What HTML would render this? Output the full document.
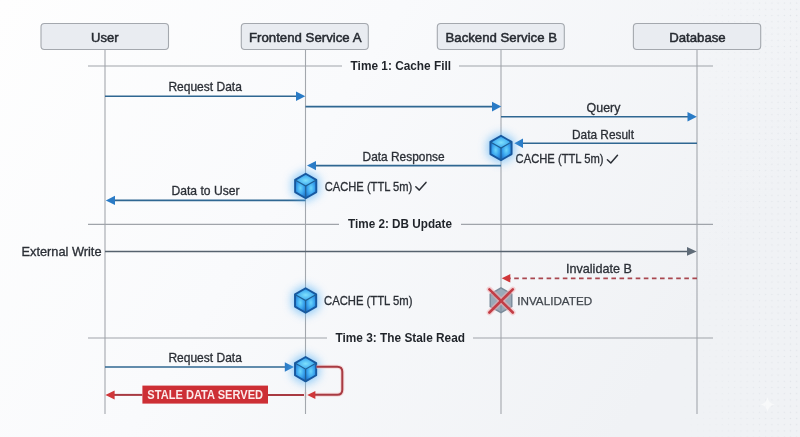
<!DOCTYPE html>
<html><head><meta charset="utf-8">
<style>
html,body{margin:0;padding:0;background:#f6f8fa;}
svg{display:block;will-change:transform;}
text{font-family:"Liberation Sans",sans-serif;}
</style></head>
<body>
<svg width="800" height="437" viewBox="0 0 800 437">
<defs>
  <linearGradient id="bg" x1="0" y1="0" x2="1" y2="0.35">
    <stop offset="0" stop-color="#fefefe"/>
    <stop offset="0.45" stop-color="#f9fafc"/>
    <stop offset="1" stop-color="#f0f2f5"/>
  </linearGradient>
  <filter id="blur3" x="-1" y="-1" width="3" height="3"><feGaussianBlur stdDeviation="5"/></filter>
  <radialGradient id="ftop" cx="0.5" cy="0.55" r="0.6">
    <stop offset="0" stop-color="#7ee0fc"/><stop offset="0.6" stop-color="#45b0f2"/><stop offset="1" stop-color="#1f7ed4"/>
  </radialGradient>
  <radialGradient id="fside" cx="0.5" cy="0.45" r="0.65">
    <stop offset="0" stop-color="#6ad6fb"/><stop offset="0.5" stop-color="#3aa4ee"/><stop offset="1" stop-color="#1a6cc4"/>
  </radialGradient>
  <pattern id="dots" x="0" y="0" width="6.2" height="6.2" patternUnits="userSpaceOnUse">
    <rect x="2.5" y="2.5" width="1.2" height="1.2" fill="#c9ced6"/>
  </pattern>
  <linearGradient id="dotfade" x1="0" y1="0" x2="1" y2="0">
    <stop offset="0" stop-color="#fff" stop-opacity="0"/>
    <stop offset="1" stop-color="#fff" stop-opacity="1"/>
  </linearGradient>
  <mask id="dotmask"><rect x="680" y="0" width="120" height="437" fill="url(#dotfade)"/></mask>
</defs>

<rect x="0" y="0" width="800" height="437" fill="url(#bg)"/>
<rect x="680" y="0" width="120" height="437" fill="url(#dots)" mask="url(#dotmask)" opacity="0.45"/>
<!-- lifelines -->
<g stroke="#a3a7ad" stroke-width="1.1">
  <line x1="105" y1="49" x2="105" y2="414"/>
  <line x1="305.5" y1="49" x2="305.5" y2="414"/>
  <line x1="501" y1="49" x2="501" y2="414"/>
  <line x1="697" y1="49" x2="697" y2="414"/>
</g>

<!-- participant boxes -->
<g fill="#e9ecf1" stroke="#a4a8ae" stroke-width="1.1">
  <rect x="41" y="23.5" width="127.5" height="26" rx="3.5"/>
  <rect x="241.3" y="23.5" width="127" height="26" rx="3.5"/>
  <rect x="437.3" y="23.5" width="127" height="26" rx="3.5"/>
  <rect x="633.4" y="23.5" width="127.3" height="26" rx="3.5"/>
</g>
<g fill="#262a31" font-size="13.6" stroke="#262a31" stroke-width="0.5">
  <text x="91" y="41.8" textLength="27.5" lengthAdjust="spacingAndGlyphs">User</text>
  <text x="249" y="41.6" textLength="112.5" lengthAdjust="spacingAndGlyphs">Frontend Service A</text>
  <text x="445.5" y="41.6" textLength="111.5" lengthAdjust="spacingAndGlyphs">Backend Service B</text>
  <text x="669.2" y="41.6" textLength="56.5" lengthAdjust="spacingAndGlyphs">Database</text>
</g>

<!-- dividers -->
<g stroke="#a0a4aa" stroke-width="1.2">
  <line x1="88" y1="66" x2="342" y2="66"/><line x1="459" y1="66" x2="713" y2="66"/>
  <line x1="88" y1="224.3" x2="339" y2="224.3"/><line x1="461" y1="224.3" x2="713" y2="224.3"/>
  <line x1="88" y1="338" x2="327" y2="338"/><line x1="473" y1="338" x2="713" y2="338"/>
</g>
<g fill="#1f2329" font-size="13" font-weight="bold">
  <text x="350.6" y="70.4" textLength="100.5" lengthAdjust="spacingAndGlyphs">Time 1: Cache Fill</text>
  <text x="348" y="228.4" textLength="104" lengthAdjust="spacingAndGlyphs">Time 2: DB Update</text>
  <text x="335.5" y="342" textLength="129.5" lengthAdjust="spacingAndGlyphs">Time 3: The Stale Read</text>
</g>

<!-- message labels -->
<g fill="#2b2f36" font-size="12.2" stroke="#2b2f36" stroke-width="0.3">
  <text x="168.4" y="91.3" textLength="73.5" lengthAdjust="spacingAndGlyphs">Request Data</text>
  <text x="586.6" y="112" textLength="33.8" lengthAdjust="spacingAndGlyphs">Query</text>
  <text x="572" y="138.5" textLength="62" lengthAdjust="spacingAndGlyphs">Data Result</text>
  <text x="362.6" y="160.6" textLength="82" lengthAdjust="spacingAndGlyphs">Data Response</text>
  <text x="171.5" y="195.4" textLength="68" lengthAdjust="spacingAndGlyphs">Data to User</text>
  <text x="21.5" y="256.2" textLength="80" lengthAdjust="spacingAndGlyphs">External Write</text>
  <text x="566" y="273.2" textLength="65.8" lengthAdjust="spacingAndGlyphs">Invalidate B</text>
  <text x="168.4" y="361.9" textLength="73.5" lengthAdjust="spacingAndGlyphs">Request Data</text>
</g>
<g fill="#2b2f36" font-size="12" stroke="#2b2f36" stroke-width="0.3">
  <text x="515.6" y="163.4" textLength="88" lengthAdjust="spacingAndGlyphs">CACHE (TTL 5m)</text>
  <text x="324.8" y="191" textLength="87.5" lengthAdjust="spacingAndGlyphs">CACHE (TTL 5m)</text>
  <text x="324" y="305.4" textLength="88.5" lengthAdjust="spacingAndGlyphs">CACHE (TTL 5m)</text>
</g>
<g fill="#41464d" font-size="11.8" stroke="#41464d" stroke-width="0.25">
  <text x="517.2" y="304.7" textLength="75" lengthAdjust="spacingAndGlyphs">INVALIDATED</text>
</g>
<!-- check marks -->
<g fill="none" stroke="#2b2f36" stroke-width="1.5" stroke-linecap="round" stroke-linejoin="round">
  <polyline points="607.4,159.8 610.8,163 617.5,155.2"/>
  <polyline points="415.8,186.8 419.3,190.1 426,182.4"/>
</g>

<!-- blue arrows -->
<g stroke="#2f6792" stroke-width="1.6" fill="none">
  <line x1="105" y1="96.3" x2="297" y2="96.3"/>
  <line x1="305.5" y1="106.6" x2="493" y2="106.6"/>
  <line x1="501" y1="116.7" x2="689" y2="116.7"/>
  <line x1="697" y1="143.3" x2="522" y2="143.3"/>
  <line x1="501" y1="165.6" x2="315" y2="165.6"/>
  <line x1="305.5" y1="200.4" x2="114" y2="200.4"/>
  <line x1="105" y1="367" x2="286" y2="367"/>
</g>
<g fill="#2a7bc6">
  <polygon points="296,91.5 305.3,96.3 296,101.1"/>
  <polygon points="492,101.8 501.3,106.6 492,111.4"/>
  <polygon points="687.5,111.9 696.8,116.7 687.5,121.5"/>
  <polygon points="523,138.6 514.3,143.3 523,148"/>
  <polygon points="316,160.9 307,165.6 316,170.3"/>
  <polygon points="115,195.7 105.8,200.4 115,205.1"/>
  <polygon points="284.8,362.3 294,367 284.8,371.7"/>
</g>

<!-- external write gray arrow -->
<line x1="105" y1="251.4" x2="688" y2="251.4" stroke="#56626e" stroke-width="1.5"/>
<polygon points="687,247 696.7,251.4 687,255.8" fill="#5f6b77"/>

<!-- invalidate dashed -->
<line x1="697" y1="278.4" x2="510" y2="278.4" stroke="#a9474f" stroke-width="1.8" stroke-dasharray="4.6 3.5"/>
<polygon points="510.3,274 501.7,278.3 510.3,282.6" fill="#d0373a"/>

<!-- cubes -->
<g transform="translate(501,148)">
    <polygon points="0,-15.5 13.4,-7.8 13.4,7.8 0,15.5 -13.4,7.8 -13.4,-7.8" fill="#5ab4f6" opacity="0.7" filter="url(#blur3)"/>
    <polygon points="0,-12.2 10.6,-6.1 0,0 -10.6,-6.1" fill="url(#ftop)"/>
    <polygon points="-10.6,-6.1 0,0 0,12.2 -10.6,6.1" fill="url(#fside)"/>
    <polygon points="0,0 10.6,-6.1 10.6,6.1 0,12.2" fill="url(#fside)"/>
    <polygon points="0,-12.2 10.6,-6.1 10.6,6.1 0,12.2 -10.6,6.1 -10.6,-6.1" fill="none" stroke="#17589f" stroke-width="1.9" stroke-linejoin="round"/>
    <polyline points="-10.6,-6.1 0,0 10.6,-6.1" fill="none" stroke="#1d5f94" stroke-width="1.1"/>
    <line x1="0" y1="0" x2="0" y2="12.2" stroke="#1d5f94" stroke-width="1.1"/>
</g>
<g transform="translate(305.7,186)">
    <polygon points="0,-15.5 13.4,-7.8 13.4,7.8 0,15.5 -13.4,7.8 -13.4,-7.8" fill="#5ab4f6" opacity="0.7" filter="url(#blur3)"/>
    <polygon points="0,-12.2 10.6,-6.1 0,0 -10.6,-6.1" fill="url(#ftop)"/>
    <polygon points="-10.6,-6.1 0,0 0,12.2 -10.6,6.1" fill="url(#fside)"/>
    <polygon points="0,0 10.6,-6.1 10.6,6.1 0,12.2" fill="url(#fside)"/>
    <polygon points="0,-12.2 10.6,-6.1 10.6,6.1 0,12.2 -10.6,6.1 -10.6,-6.1" fill="none" stroke="#17589f" stroke-width="1.9" stroke-linejoin="round"/>
    <polyline points="-10.6,-6.1 0,0 10.6,-6.1" fill="none" stroke="#1d5f94" stroke-width="1.1"/>
    <line x1="0" y1="0" x2="0" y2="12.2" stroke="#1d5f94" stroke-width="1.1"/>
</g>
<g transform="translate(305.6,300.5)">
    <polygon points="0,-15.5 13.4,-7.8 13.4,7.8 0,15.5 -13.4,7.8 -13.4,-7.8" fill="#5ab4f6" opacity="0.7" filter="url(#blur3)"/>
    <polygon points="0,-12.2 10.6,-6.1 0,0 -10.6,-6.1" fill="url(#ftop)"/>
    <polygon points="-10.6,-6.1 0,0 0,12.2 -10.6,6.1" fill="url(#fside)"/>
    <polygon points="0,0 10.6,-6.1 10.6,6.1 0,12.2" fill="url(#fside)"/>
    <polygon points="0,-12.2 10.6,-6.1 10.6,6.1 0,12.2 -10.6,6.1 -10.6,-6.1" fill="none" stroke="#17589f" stroke-width="1.9" stroke-linejoin="round"/>
    <polyline points="-10.6,-6.1 0,0 10.6,-6.1" fill="none" stroke="#1d5f94" stroke-width="1.1"/>
    <line x1="0" y1="0" x2="0" y2="12.2" stroke="#1d5f94" stroke-width="1.1"/>
</g>
<g transform="translate(305.6,369.2)">
    <polygon points="0,-15.5 13.4,-7.8 13.4,7.8 0,15.5 -13.4,7.8 -13.4,-7.8" fill="#5ab4f6" opacity="0.7" filter="url(#blur3)"/>
    <polygon points="0,-12.2 10.6,-6.1 0,0 -10.6,-6.1" fill="url(#ftop)"/>
    <polygon points="-10.6,-6.1 0,0 0,12.2 -10.6,6.1" fill="url(#fside)"/>
    <polygon points="0,0 10.6,-6.1 10.6,6.1 0,12.2" fill="url(#fside)"/>
    <polygon points="0,-12.2 10.6,-6.1 10.6,6.1 0,12.2 -10.6,6.1 -10.6,-6.1" fill="none" stroke="#17589f" stroke-width="1.9" stroke-linejoin="round"/>
    <polyline points="-10.6,-6.1 0,0 10.6,-6.1" fill="none" stroke="#1d5f94" stroke-width="1.1"/>
    <line x1="0" y1="0" x2="0" y2="12.2" stroke="#1d5f94" stroke-width="1.1"/>
</g>

<!-- invalidated cube -->
<g transform="translate(501,300.3)">
  <polygon points="0,-12.4 10.8,-6.2 10.8,6.2 0,12.4 -10.8,6.2 -10.8,-6.2" fill="#9aa9b7" stroke="#7b8b9a" stroke-width="1.4"/>
  <polyline points="-10.8,-6.2 0,0 10.8,-6.2" fill="none" stroke="#7b8b9a" stroke-width="1"/>
  <line x1="0" y1="0" x2="0" y2="12.4" stroke="#7b8b9a" stroke-width="1"/>
  <g stroke="#f2b0b4" stroke-width="5.5" stroke-opacity="0.55" stroke-linecap="round">
    <line x1="-11.6" y1="-11" x2="11.8" y2="12.2"/><line x1="11.8" y1="-11" x2="-11.6" y2="12.2"/>
  </g>
  <g stroke="#c23d45" stroke-width="2.6" stroke-linecap="round">
    <line x1="-11.6" y1="-11" x2="11.8" y2="12.2"/><line x1="11.8" y1="-11" x2="-11.6" y2="12.2"/>
  </g>
</g>

<!-- red loop -->
<path d="M316.5,366.8 H337.3 Q342.3,366.8 342.3,371.8 V389.8 Q342.3,394.8 337.3,394.8 H314" fill="none" stroke="#f4c4c4" stroke-width="4" stroke-opacity="0.6"/>
<path d="M316.5,366.8 H337.3 Q342.3,366.8 342.3,371.8 V389.8 Q342.3,394.8 337.3,394.8 H314" fill="none" stroke="#a83a42" stroke-width="2"/>
<polygon points="315.4,391 307.2,394.9 315.4,399" fill="#d0373a"/>
<line x1="307" y1="394.9" x2="268" y2="394.9" stroke="#a83a42" stroke-width="2"/>
<line x1="142.4" y1="394.9" x2="113" y2="394.9" stroke="#a83a42" stroke-width="2"/>
<line x1="305.5" y1="392" x2="305.5" y2="398" stroke="#f3e3e5" stroke-width="3"/><line x1="305.5" y1="390" x2="305.5" y2="400" stroke="#a3a7ad" stroke-width="1.1"/>
<polygon points="114.6,390.4 105.4,394.9 114.6,399.6" fill="#d0373a"/>
<rect x="142.4" y="385.6" width="125.6" height="18" fill="#cd2f35"/>
<text x="147.3" y="399.2" font-size="12.6" font-weight="bold" fill="#fbeaea" textLength="115.8" lengthAdjust="spacingAndGlyphs">STALE DATA SERVED</text>
<path d="M767.5,397 Q768.5,403.5 775,404.5 Q768.5,405.5 767.5,412 Q766.5,405.5 760,404.5 Q766.5,403.5 767.5,397 Z" fill="#ffffff" opacity="0.5"/>
</svg>
</body></html>
